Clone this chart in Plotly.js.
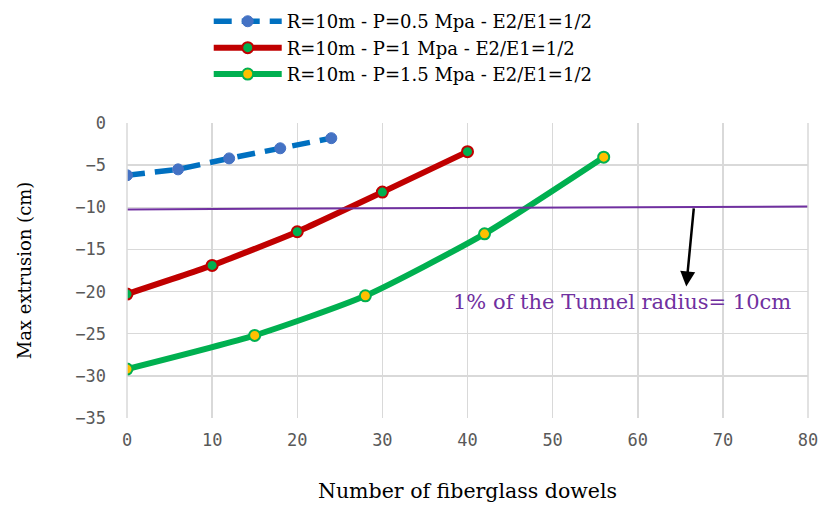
<!DOCTYPE html>
<html><head><meta charset="utf-8">
<script src="https://cdn.plot.ly/plotly-3.0.1.min.js"></script>
<style>body{margin:0;background:#fff}#c{width:824px;height:508px}</style>
</head><body><div id="c"></div>
<script>
const names = ["R=10m - P=0.5 Mpa - E2/E1=1/2","R=10m - P=1 Mpa - E2/E1=1/2","R=10m - P=1.5 Mpa - E2/E1=1/2"];
const x05 = [0, 6, 12, 18, 24];
const y05 = [-6.2, -5.5, -4.2, -3.0, -1.8];
const x10 = [0, 10, 20, 30, 40];
const y10 = [-20.3, -16.9, -12.9, -8.2, -3.4];
const x15 = [0, 15, 28, 42, 56];
const y15 = [-29.2, -25.2, -20.5, -13.15, -4.05];
const limitX = [0, 80];
const limitY = [-10.25, -9.9];
const noteText = "1% of the Tunnel radius= 10cm";
const xTicks = [0,10,20,30,40,50,60,70,80];
const yTicks = [0,-5,-10,-15,-20,-25,-30,-35];

const serif = "DejaVu Serif, serif";
const mono = "DejaVu Sans Mono, monospace";
const traces = [
 {x:x05,y:y05,name:names[0],mode:"lines+markers",line:{color:"#0070C0",width:5.5,dash:"18px,10px"},
  marker:{size:11,color:"#4472C4",line:{color:"#4472C4",width:1}}},
 {x:x10,y:y10,name:names[1],mode:"lines+markers",line:{color:"#C00000",width:6,shape:"spline",smoothing:0.5},
  marker:{size:11,color:"#00B050",line:{color:"#C00000",width:2}}},
 {x:x15,y:y15,name:names[2],mode:"lines+markers",line:{color:"#00B050",width:6,shape:"spline",smoothing:0.6},
  marker:{size:11,color:"#FFC000",line:{color:"#00B050",width:2}}},
 {x:limitX,y:limitY,mode:"lines",line:{color:"#7030A0",width:2},showlegend:false,hoverinfo:"skip"}
];
const layout = {
 width:824,height:508,margin:{l:127,r:16,t:123,b:90},
 paper_bgcolor:"#fff",plot_bgcolor:"#fff",
 showlegend:true,
 legend:{x:0.12,y:0.994,yref:"container",xanchor:"left",yanchor:"top",font:{family:serif,size:18,color:"#000"},tracegroupgap:0,itemwidth:68,bgcolor:"rgba(0,0,0,0)"},
 xaxis:{range:[0,80],tickvals:xTicks,ticktext:xTicks.map(String),showgrid:true,gridcolor:"#D9D9D9",gridwidth:1.5,
  zeroline:false,showline:false,tickfont:{family:mono,size:17,color:"#595959"},ticks:"",ticklabelstandoff:10,
  title:{text:"Number of fiberglass dowels",font:{family:serif,size:20.5,color:"#000"},standoff:34},automargin:false},
 yaxis:{range:[-35,0],tickvals:yTicks,ticktext:yTicks.map(v=>v<0?"\u2212"+Math.abs(v):String(v)),showgrid:true,gridcolor:"#D9D9D9",gridwidth:1.5,
  zeroline:false,showline:false,tickfont:{family:mono,size:17,color:"#595959"},ticks:"",ticklabelstandoff:20,
  title:{text:"Max extrusion (cm)",font:{family:serif,size:18,color:"#000"},standoff:38},automargin:false},
 shapes:[
  {type:"line",xref:"paper",yref:"paper",x0:0,x1:0,y0:0,y1:1,line:{color:"#D9D9D9",width:1.5}},
  {type:"line",xref:"paper",yref:"paper",x0:1,x1:1,y0:0,y1:1,line:{color:"#D9D9D9",width:1.5}}
 ],
 annotations:[
  {x:65.7,y:-19.4,ax:66.6,ay:-9.95,axref:"x",ayref:"y",xref:"x",yref:"y",text:"",showarrow:true,arrowhead:2,arrowsize:1.2,arrowwidth:2.5,arrowcolor:"#000"},
  {x:58.2,y:-21.2,xref:"x",yref:"y",text:noteText,showarrow:false,font:{family:serif,size:21,color:"#7030A0"}}
 ]
};
Plotly.newPlot("c",traces,layout,{displayModeBar:false,staticPlot:true});
</script></body></html>
